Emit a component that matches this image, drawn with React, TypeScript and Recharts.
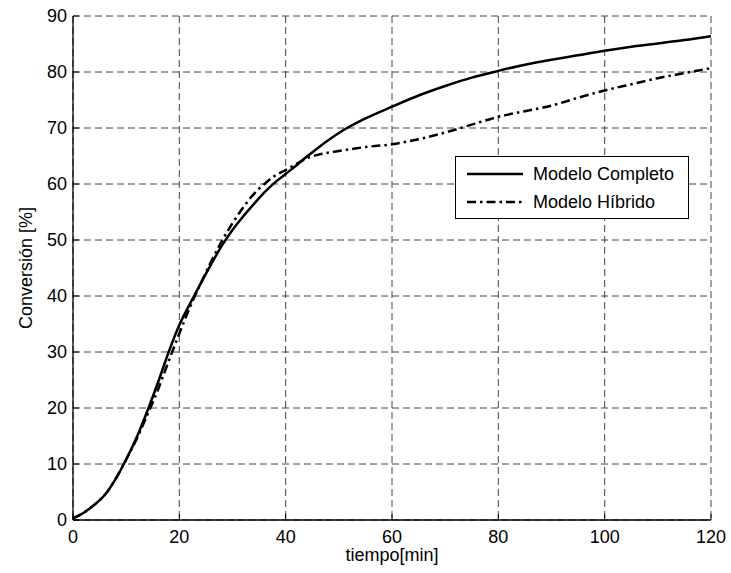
import React from "react";
import {
  LineChart,
  Line,
  XAxis,
  YAxis,
  CartesianGrid,
  Legend,
  Label,
} from "recharts";

// tiempo [min] and conversion [%] for both models
const TIEMPO = [
  0, 2, 4, 6, 8, 10, 12, 14, 16, 18, 20, 22, 24, 26, 28, 30, 32, 34, 36, 38,
  40, 42, 44, 46, 48, 50, 55, 60, 65, 70, 75, 80, 85, 90, 95, 100, 105, 110,
  115, 120,
];
const COMPLETO = [
  0.3, 1.3, 2.7, 4.5, 7.3, 10.8, 14.8, 19.5, 24.6, 30.0, 34.8, 38.6, 42.2,
  45.7, 49.0, 51.8, 54.2, 56.4, 58.5, 60.3, 61.8, 63.3, 64.9, 66.4, 67.8, 69.1,
  71.7, 73.8, 75.8, 77.5, 79.0, 80.2, 81.3, 82.2, 83.0, 83.8, 84.5, 85.1, 85.7,
  86.4,
];
const HIBRIDO = [
  0.3, 1.3, 2.7, 4.5, 7.3, 10.8, 14.5, 18.8, 23.3, 28.4, 33.3, 38.0, 42.2,
  46.2, 49.8, 53.0, 55.8, 58.2, 60.0, 61.5, 62.5, 63.6, 64.6, 65.2, 65.6, 65.9,
  66.6, 67.1, 68.0, 69.2, 70.6, 72.0, 73.0, 74.0, 75.4, 76.7, 77.8, 78.9, 79.8,
  80.7,
];
const X_TICKS = [0, 20, 40, 60, 80, 100, 120];
const Y_TICKS = [0, 10, 20, 30, 40, 50, 60, 70, 80, 90];

const data = TIEMPO.map((t, i) => ({
  t,
  completo: COMPLETO[i],
  hibrido: HIBRIDO[i],
}));

const FONT = "'Liberation Sans', Arial, Helvetica, sans-serif";
const DASH_DOT = "9 4 2.5 4";
const tickStyle = { fill: "#000", fontSize: 18, fontFamily: FONT };

function LegendBox({ payload }: any) {
  return (
    <div
      style={{
        position: "relative",
        width: 232,
        height: 61,
        border: "1px solid #000",
        background: "#fff",
        fontFamily: FONT,
        fontSize: 18,
        color: "#000",
        boxSizing: "content-box",
      }}
    >
      {(payload || []).map((p: any, i: number) => (
        <div
          key={p.value}
          style={{
            position: "absolute",
            left: 11,
            top: i === 0 ? 6 : 34,
            height: 22,
            display: "flex",
            alignItems: "center",
          }}
        >
          <svg width={56} height={6} style={{ display: "block" }}>
            <line
              x1={0}
              y1={3}
              x2={56}
              y2={3}
              stroke="#000"
              strokeWidth={2.5}
              strokeDasharray={p.payload?.strokeDasharray}
            />
          </svg>
          <span style={{ marginLeft: 10, whiteSpace: "nowrap" }}>{p.value}</span>
        </div>
      ))}
    </div>
  );
}

function YTitle({ viewBox }: any) {
  const cx = viewBox.x + 26;
  const cy = viewBox.y + viewBox.height / 2;
  return (
    <text
      transform={`translate(${cx},${cy}) rotate(-90)`}
      textAnchor="middle"
      dy="0.35em"
      style={tickStyle}
    >
      Conversión [%]
    </text>
  );
}

export default function App() {
  return (
    <div style={{ position: "absolute", left: 0, top: 0, background: "#fff" }}>
      <LineChart
        width={731}
        height={573}
        data={data}
        margin={{ top: 16, right: 20, left: 0, bottom: 0 }}
      >
        <CartesianGrid stroke="#444" strokeDasharray="7 4" strokeWidth={1} />
        <XAxis
          dataKey="t"
          type="number"
          domain={[0, 120]}
          ticks={X_TICKS}
          height={53}
          tick={tickStyle}
          tickSize={-6}
          tickMargin={16}
          axisLine={{ stroke: "#000", strokeWidth: 1.3 }}
          tickLine={{ stroke: "#000" }}
        >
          <Label
            value="tiempo[min]"
            position="insideBottom"
            offset={12}
            style={tickStyle}
          />
        </XAxis>
        <XAxis
          xAxisId="top"
          dataKey="t"
          type="number"
          orientation="top"
          domain={[0, 120]}
          ticks={X_TICKS}
          height={0}
          tick={false}
          tickSize={-6}
          axisLine={{ stroke: "#000", strokeWidth: 1.3 }}
          tickLine={{ stroke: "#000" }}
        />
        <YAxis
          type="number"
          domain={[0, 90]}
          ticks={Y_TICKS}
          width={73}
          tick={tickStyle}
          tickSize={-6}
          tickMargin={12}
          axisLine={{ stroke: "#000", strokeWidth: 1.3 }}
          tickLine={{ stroke: "#000" }}
        >
          <Label content={<YTitle />} />
        </YAxis>
        <YAxis
          yAxisId="right"
          orientation="right"
          type="number"
          domain={[0, 90]}
          ticks={Y_TICKS}
          width={0}
          tick={false}
          tickSize={-6}
          axisLine={{ stroke: "#000", strokeWidth: 1.3 }}
          tickLine={{ stroke: "#000" }}
        />
        <Legend
          layout="vertical"
          verticalAlign="middle"
          align="center"
          wrapperStyle={{ left: 455, top: 156, width: 234, height: 63 }}
          content={<LegendBox />}
        />
        <Line
          dataKey="completo"
          name="Modelo Completo"
          type="monotone"
          stroke="#000"
          strokeWidth={2.5}
          dot={false}
          isAnimationActive={false}
        />
        <Line
          dataKey="hibrido"
          name="Modelo Híbrido"
          type="monotone"
          stroke="#000"
          strokeWidth={2.5}
          strokeDasharray={DASH_DOT}
          dot={false}
          isAnimationActive={false}
        />
      </LineChart>
    </div>
  );
}
